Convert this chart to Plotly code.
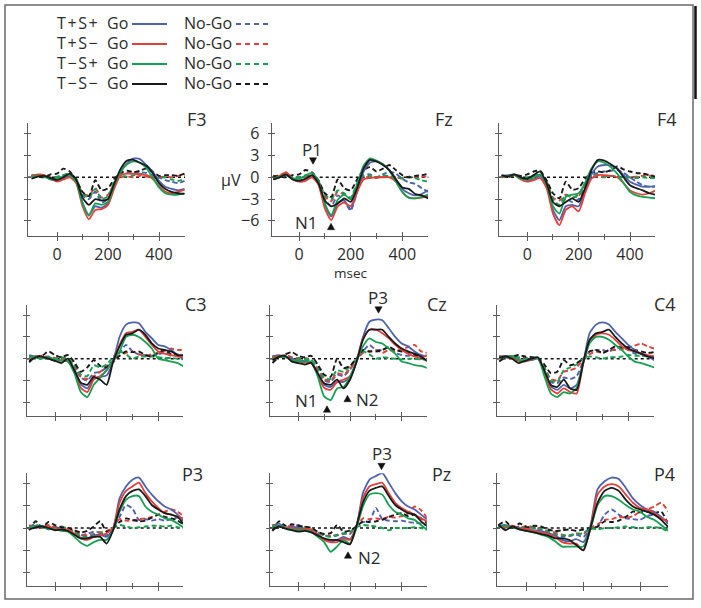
import plotly.graph_objects as go

W, H = 701, 608

# ---------------- data (µV, sampled every 25 ms) ----------------
times = [-100, -75, -50, -25, 0, 25, 50, 75, 100, 125, 150, 175, 200,
         225, 250, 275, 300, 325, 350, 375, 400, 425, 450, 475, 500]

electrodes = ["F3", "Fz", "F4", "C3", "Cz", "C4", "P3", "Pz", "P4"]
conditions = ["T+S+", "T+S−", "T−S+", "T−S−"]
cond_keys = ["tpsp", "tpsm", "tmsp", "tmsm"]
colors = ["#4e62ad", "#e4403b", "#16a052", "#1a1a1a"]
x_tick_vals = [0, 200, 400]
x_tick_text = ["0", "200", "400"]
x_minor_vals = [100, 300]
y_tick_vals = [-6, -3, 0, 3, 6]
y_tick_text = ["−6", "−3", "0", "3", "6"]

# F3
F3_tpsp_go = [0.2, 0.3, 0.2, -0.3, -0.3, -0.2, 0.2, -0.5, -3.5, -5.2, -4.0, -4.2, -3.6, -1.2, 0.8, 1.9, 2.6, 2.5, 1.7, 0.8, -0.5, -1.3, -1.6, -1.8, -1.6]
F3_tpsm_go = [0.2, 0.4, 0.3, -0.2, -0.6, -0.3, 0.0, -0.8, -4.0, -5.8, -4.5, -4.4, -3.8, -1.5, 0.3, 0.5, 0.5, 0.4, 0.3, -0.2, -1.2, -2.0, -2.2, -2.0, -1.7]
F3_tmsp_go = [0.1, 0.2, 0.1, -0.3, -0.2, 0.1, 0.3, -0.6, -3.6, -5.3, -3.6, -3.8, -3.4, -1.0, 0.8, 1.8, 2.2, 2.0, 1.3, 0.0, -1.4, -2.2, -2.4, -2.4, -2.2]
F3_tmsm_go = [-0.2, 0.1, 0.2, -0.1, -0.4, 0.0, 0.5, -0.3, -2.8, -3.8, -3.0, -3.2, -3.0, -0.8, 1.2, 2.3, 2.4, 2.0, 1.6, 0.6, -0.8, -1.6, -2.0, -2.2, -2.3]
F3_tpsp_nogo = [0.1, 0.2, 0.3, -0.2, 0.0, 0.3, 0.5, -0.5, -2.5, -3.0, -2.0, -3.5, -3.0, -1.0, 0.3, 0.6, 0.5, 0.7, 0.6, 0.3, 0.0, -0.4, -0.6, -0.8, -0.5]
F3_tpsm_nogo = [0.0, 0.3, 0.2, 0.0, -0.2, 0.2, 0.4, -0.3, -2.2, -2.5, -1.5, -2.8, -2.4, -0.8, 0.0, 0.1, 0.0, 0.2, 0.1, 0.0, 0.0, 0.1, 0.0, 0.2, 0.3]
F3_tmsp_nogo = [0.2, 0.1, 0.2, -0.1, 0.1, 0.3, 0.5, -0.2, -2.3, -2.8, -1.6, -3.0, -2.6, -0.6, 0.2, 0.1, 0.3, 0.5, 0.3, 0.0, -0.1, 0.0, -0.3, -0.5, -0.2]
F3_tmsm_nogo = [0.3, 0.1, 0.0, 0.4, 0.5, 1.2, 0.8, -0.3, -2.0, -2.6, -0.4, -1.8, -1.5, -0.2, 0.6, 0.9, 0.7, 0.9, 1.2, 0.8, 0.2, 0.3, 0.3, 0.2, 0.5]

# Fz
Fz_tpsp_go = [-0.2, 0.0, 0.3, -0.2, -0.4, -0.2, 0.2, -0.8, -3.8, -5.4, -3.6, -3.2, -4.4, -2.0, 0.8, 2.0, 2.2, 1.8, 1.0, -0.2, -1.6, -2.2, -2.5, -2.3, -1.8]
Fz_tpsm_go = [-0.3, 0.2, 0.7, -0.2, -0.6, -0.5, 0.0, -1.0, -4.3, -5.9, -4.0, -3.5, -4.0, -2.0, -0.3, -0.1, 0.0, 0.0, 0.0, -0.6, -2.0, -2.8, -2.9, -2.8, -2.6]
Fz_tmsp_go = [-0.2, 0.1, 0.3, -0.1, -0.2, 0.2, 0.6, -0.5, -3.6, -5.2, -3.1, -2.4, -3.0, -1.0, 1.6, 2.6, 2.3, 1.8, 0.9, -0.6, -2.0, -2.8, -2.9, -2.7, -2.4]
Fz_tmsm_go = [-0.3, 0.0, 0.4, -0.3, -0.5, -0.2, 0.3, -0.8, -3.2, -4.0, -3.6, -2.9, -3.4, -1.5, 1.2, 2.4, 2.2, 1.7, 1.0, -0.3, -1.4, -1.6, -2.3, -2.5, -2.9]
Fz_tpsp_nogo = [0.0, 0.2, 0.3, -0.1, 0.0, 0.2, 0.3, -0.8, -3.0, -4.0, -2.5, -3.2, -4.6, -2.0, 0.3, 0.4, 0.0, 0.4, 0.8, 0.5, -0.2, -0.7, -0.9, -1.5, -2.0]
Fz_tpsm_nogo = [0.1, 0.3, 0.5, 0.0, -0.1, 0.1, 0.2, -0.6, -2.6, -3.3, -2.0, -2.4, -3.0, -1.2, 0.0, 0.0, -0.1, 0.1, 0.0, 0.0, -0.2, 0.1, 0.0, 0.1, 0.1]
Fz_tmsp_nogo = [0.0, 0.2, 0.4, 0.0, 0.0, 0.3, 0.4, -0.5, -2.4, -3.0, -1.8, -2.2, -2.8, -0.8, 0.2, 0.2, 0.0, 0.3, 0.1, 0.0, -0.1, 0.0, -0.1, -0.4, -0.6]
Fz_tmsm_nogo = [0.2, 0.1, 0.0, 0.3, 0.4, 1.0, 0.7, -0.4, -2.2, -2.7, -0.3, -1.5, -1.8, -0.3, 1.0, 1.4, 0.8, 1.2, 1.7, 1.0, 0.3, 0.0, 0.2, 0.3, 0.5]

# F4
F4_tpsp_go = [0.2, 0.3, 0.4, 0.0, -0.4, -0.3, 0.2, -1.2, -4.5, -5.9, -4.0, -3.8, -4.0, -1.8, 0.4, 1.5, 1.7, 1.6, 1.2, 0.3, -0.6, -1.0, -1.3, -1.3, -1.2]
F4_tpsm_go = [0.0, 0.2, 0.3, -0.3, -0.6, -0.4, -0.1, -1.5, -5.0, -6.6, -4.5, -4.0, -4.7, -2.2, -0.2, 0.3, 0.3, 0.2, 0.0, -0.8, -1.8, -2.2, -2.4, -2.2, -1.8]
F4_tmsp_go = [0.1, 0.2, 0.3, -0.2, -0.3, 0.0, 0.4, -1.0, -4.0, -5.0, -2.7, -2.4, -2.2, -0.8, 1.2, 2.2, 2.0, 1.4, 0.5, -0.8, -2.0, -2.5, -2.7, -2.8, -2.9]
F4_tmsm_go = [0.3, 0.1, 0.4, 0.0, -0.2, 0.3, 0.8, -0.8, -3.4, -4.0, -3.4, -2.9, -3.4, -1.5, 1.0, 2.4, 2.3, 1.8, 1.2, 0.0, -1.1, -1.5, -1.8, -2.2, -2.4]
F4_tpsp_nogo = [0.1, 0.2, 0.3, 0.0, -0.1, 0.2, 0.3, -0.8, -3.3, -3.8, -3.0, -3.4, -3.0, -1.2, 0.2, 0.6, 0.8, 0.9, 1.0, 0.6, 0.0, -0.6, -1.1, -1.3, -1.3]
F4_tpsm_nogo = [0.2, 0.1, 0.4, 0.0, -0.1, 0.1, 0.2, -0.6, -2.8, -3.2, -2.4, -2.8, -2.6, -0.9, 0.0, 0.1, 0.0, 0.2, 0.1, 0.0, 0.0, 0.1, 0.2, 0.2, 0.3]
F4_tmsp_nogo = [0.1, 0.2, 0.3, 0.0, 0.0, 0.2, 0.3, -0.6, -3.0, -3.8, -2.4, -2.8, -2.4, -0.8, 0.2, 0.3, 0.1, 0.2, 0.1, 0.0, 0.0, -0.1, 0.0, -0.1, -0.1]
F4_tmsm_nogo = [0.2, 0.0, 0.3, 0.2, 0.4, 0.8, 0.9, -0.4, -2.2, -2.9, -0.6, -1.7, -1.5, -0.2, 0.6, 0.8, 0.7, 1.0, 1.5, 1.1, 0.8, 0.6, 0.5, 0.3, 0.1]

# C3
C3_tpsp_go = [0.5, 0.3, 0.2, 0.0, -0.2, -0.3, -0.3, -1.5, -3.5, -4.1, -2.7, -2.5, -2.3, -0.4, 3.0, 4.7, 5.0, 4.9, 3.7, 2.8, 1.9, 1.7, 1.2, 0.5, -0.2]
C3_tpsm_go = [0.2, 0.3, 0.1, 0.1, -0.3, -0.2, -0.4, -1.8, -4.0, -4.6, -2.9, -2.4, -1.6, -0.2, 1.9, 3.5, 3.7, 4.0, 3.0, 1.9, 1.0, 0.7, 0.5, 0.3, 0.3]
C3_tmsp_go = [0.3, 0.2, 0.0, 0.2, -0.1, -0.2, -0.4, -2.0, -4.6, -5.3, -3.6, -2.6, -1.6, -0.2, 1.0, 3.0, 3.3, 3.0, 2.3, 1.4, 0.0, -0.2, -0.4, -0.6, -1.1]
C3_tmsm_go = [-0.3, 0.2, 0.3, 0.0, -0.3, -0.6, 0.0, -1.6, -3.3, -3.6, -2.5, -2.9, -3.6, -0.4, 1.7, 3.3, 3.5, 4.0, 3.3, 2.1, 1.4, 1.2, 1.0, 0.5, 0.5]
C3_tpsp_nogo = [0.3, 0.1, 0.2, 0.3, 0.0, 0.1, 0.0, -1.0, -2.6, -3.0, -2.0, -1.8, -1.2, -0.3, 0.8, 1.9, 1.0, 0.6, 0.5, 0.4, 0.6, 0.8, 0.4, 0.6, 0.3]
C3_tpsm_nogo = [0.1, 0.2, 0.4, 0.2, 0.1, 0.0, -0.2, -1.0, -2.5, -2.8, -2.4, -1.8, -1.0, -0.5, 0.4, 0.8, 1.0, 0.6, 0.4, 0.6, 0.8, 1.1, 1.4, 1.2, 1.2]
C3_tmsp_nogo = [0.2, 0.1, 0.2, 0.1, 0.0, 0.2, 0.0, -0.8, -2.2, -2.4, -0.9, -1.2, -0.8, 0.2, 1.0, 0.6, 0.0, 0.3, 0.3, 0.3, 0.2, 0.1, 0.1, 0.0, 0.0]
C3_tmsm_nogo = [-0.5, 0.3, 0.4, 1.0, 0.5, 0.2, 0.5, -0.5, -1.8, -1.2, -0.2, -1.0, -1.2, -0.3, 0.4, 1.0, 0.9, 1.0, 0.5, 0.3, 0.8, 1.2, 0.6, 0.4, 0.3]

# Cz
Cz_tpsp_go = [0.3, 0.5, 0.2, 0.0, -0.3, -0.3, -0.5, -2.0, -3.6, -3.9, -3.2, -3.2, -2.6, -0.4, 3.0, 5.1, 5.4, 5.3, 4.2, 3.0, 2.1, 1.7, 1.0, 0.5, 0.3]
Cz_tpsm_go = [0.2, 0.4, 0.3, -0.2, -0.4, -0.5, -0.6, -2.2, -4.0, -4.3, -3.2, -2.9, -2.4, -0.4, 2.8, 4.0, 4.0, 3.5, 2.8, 1.9, 1.2, 0.7, 0.3, 0.2, 0.5]
Cz_tmsp_go = [0.0, 0.3, 0.2, -0.2, -0.3, -0.4, -0.4, -2.4, -5.2, -5.7, -4.1, -3.9, -2.5, -0.4, 1.7, 2.8, 2.3, 2.1, 1.4, 0.7, -0.4, -0.6, -0.9, -1.0, -1.3]
Cz_tmsm_go = [-0.2, 0.3, 0.4, -0.4, -0.6, -0.8, -0.6, -2.0, -3.4, -3.6, -2.9, -4.1, -2.9, -0.5, 2.6, 4.0, 4.0, 4.0, 3.0, 2.1, 1.4, 1.0, 0.7, 0.3, -0.4]
Cz_tpsp_nogo = [0.4, 0.2, 0.3, 0.1, 0.0, -0.1, -0.2, -1.5, -3.0, -3.2, -2.2, -2.4, -1.5, -0.2, 1.0, 1.9, 1.2, 1.2, 1.6, 0.8, 0.5, 0.4, 0.6, 0.4, 0.4]
Cz_tpsm_nogo = [0.3, 0.2, 0.5, 0.2, 0.0, 0.1, -0.2, -1.4, -2.8, -3.0, -2.0, -2.2, -1.4, -0.2, 0.8, 1.0, 1.2, 0.8, 1.2, 1.0, 1.3, 1.6, 1.9, 1.0, 0.8]
Cz_tmsp_nogo = [0.2, 0.3, 0.2, 0.0, 0.1, 0.0, -0.2, -1.2, -2.6, -2.8, -1.6, -1.8, -1.0, 0.0, 1.0, 0.6, 0.0, 0.2, 0.1, 0.0, -0.1, 0.0, 0.0, -0.1, -0.2]
Cz_tmsm_nogo = [-0.6, 0.2, 0.6, 0.9, 0.4, 0.2, 0.4, -0.8, -2.2, -2.5, 0.0, -1.3, -1.0, 0.0, 1.2, 1.0, 1.0, 1.2, 1.6, 1.2, 1.0, 0.8, 0.5, 0.2, -0.2]

# C4
C4_tpsp_go = [0.2, 0.4, 0.2, -0.2, -0.3, -0.2, 0.0, -1.8, -3.8, -4.3, -3.6, -4.1, -3.6, -0.6, 3.5, 4.7, 5.0, 4.7, 3.7, 2.8, 1.9, 1.2, 0.7, 0.3, -0.2]
C4_tpsm_go = [0.4, 0.2, 0.1, -0.3, -0.4, -0.1, 0.1, -2.0, -4.2, -4.8, -4.1, -4.6, -4.8, -0.8, 2.3, 3.3, 3.5, 3.3, 2.6, 1.7, 1.2, 1.0, 0.7, 0.5, 0.3]
C4_tmsp_go = [0.3, 0.2, 0.4, -0.2, -0.3, 0.0, 0.1, -2.4, -4.8, -5.3, -4.6, -4.8, -4.0, -0.6, 2.1, 3.0, 3.0, 2.6, 1.9, 1.2, 0.3, -0.4, -0.6, -0.9, -1.2]
C4_tmsm_go = [0.1, 0.3, 0.0, -0.6, -0.3, 0.0, 0.2, -1.6, -3.6, -3.9, -2.9, -4.1, -4.3, -0.6, 2.6, 3.5, 3.7, 4.0, 3.0, 2.1, 1.4, 1.0, 0.7, 0.3, 0.1]
C4_tpsp_nogo = [0.3, 0.1, 0.2, 0.0, 0.1, 0.0, 0.0, -1.4, -3.2, -3.4, -2.6, -2.8, -2.4, -0.4, 1.0, 1.2, 1.2, 1.0, 1.4, 1.6, 1.2, 0.7, 0.6, 0.4, 0.3]
C4_tpsm_nogo = [0.2, 0.3, 0.3, 0.1, 0.0, 0.1, 0.0, -1.2, -2.8, -3.0, -1.8, -1.6, -1.2, -0.1, 0.6, 1.0, 0.8, 1.2, 1.2, 1.3, 1.6, 1.8, 2.1, 1.7, 1.4]
C4_tmsp_nogo = [0.1, 0.2, 0.3, 0.2, 0.0, 0.2, 0.0, -1.2, -3.0, -3.2, -1.6, -1.2, -0.8, 0.0, 0.3, 0.2, 0.0, 0.2, 0.2, 0.3, 0.5, 0.4, 0.4, 0.3, 0.3]
C4_tmsm_nogo = [-0.4, 0.2, 0.3, 0.5, 0.3, 0.2, 0.1, -0.8, -2.0, -1.8, -0.2, -0.9, -0.6, 0.0, 1.0, 1.2, 0.8, 1.2, 1.7, 1.5, 1.6, 1.2, 1.0, 0.8, 0.9]

# P3
P3_tpsp_go = [0.4, 0.0, 0.3, -0.2, 0.0, -0.3, -0.4, -0.9, -1.3, -1.4, -1.0, -0.9, -1.2, -0.1, 4.0, 5.6, 6.5, 6.8, 5.6, 4.5, 3.6, 2.9, 2.5, 1.8, 0.9]
P3_tpsm_go = [0.2, 0.3, 0.0, 0.2, -0.1, -0.2, -0.2, -0.8, -1.4, -1.6, -1.2, -1.0, -0.7, 0.0, 3.4, 5.0, 5.6, 6.1, 4.7, 3.6, 2.7, 2.0, 1.8, 1.5, 1.3]
P3_tmsp_go = [0.0, 0.3, 0.1, -0.1, -0.2, -0.4, -0.5, -1.2, -2.0, -2.4, -1.9, -1.6, -1.6, -0.3, 2.2, 3.8, 4.3, 4.3, 2.9, 2.2, 1.8, 1.3, 1.1, 0.6, 0.0]
P3_tmsm_go = [-0.2, 0.1, 0.2, 0.0, -0.3, -0.2, -0.4, -0.9, -1.4, -1.4, -1.2, -1.2, -2.1, -0.3, 2.5, 4.3, 5.0, 5.2, 4.3, 3.1, 2.5, 2.0, 1.8, 1.5, 0.4]
P3_tpsp_nogo = [0.2, 0.5, 0.1, 0.3, 0.0, 0.2, -0.2, -0.8, -1.0, -0.8, -0.5, -0.6, -1.0, 0.0, 1.5, 3.1, 2.6, 1.1, 1.2, 1.0, 1.2, 1.0, 1.2, 1.4, 1.0]
P3_tpsm_nogo = [0.3, 0.1, 0.2, 0.4, 0.2, 0.0, 0.1, -0.5, -0.9, -1.0, -0.8, -0.6, -0.4, 0.0, 1.2, 1.0, 1.0, 1.2, 1.3, 1.5, 1.8, 2.2, 2.5, 2.2, 1.5]
P3_tmsp_nogo = [0.1, 0.2, 0.1, 0.2, 0.0, 0.1, -0.1, -0.6, -1.1, -1.2, -0.9, -0.8, -0.6, 0.0, 0.4, 0.2, 0.0, 0.1, 0.2, 0.3, 0.3, 0.2, 0.3, 0.1, 0.0]
P3_tmsm_nogo = [-0.3, 0.9, 0.1, 0.8, 0.4, 0.1, 0.0, -0.3, -0.6, -0.4, 0.2, 0.9, -0.5, 0.0, 0.8, 1.3, 1.1, 0.9, 1.0, 1.4, 1.8, 1.5, 1.3, 1.0, 0.4]

# Pz
Pz_tpsp_go = [0.3, 0.6, 0.0, 0.2, 0.0, -0.2, -0.3, -0.8, -1.5, -1.8, -1.6, -1.2, -1.5, 0.2, 4.7, 6.5, 7.0, 7.4, 6.1, 4.7, 3.6, 2.9, 2.5, 1.8, 1.1]
Pz_tpsm_go = [0.4, 0.2, 0.1, 0.0, -0.2, -0.1, -0.2, -0.9, -1.6, -1.9, -1.9, -1.4, -1.6, 0.2, 4.0, 5.6, 5.9, 6.1, 4.7, 3.4, 2.7, 2.2, 1.8, 1.3, 0.9]
Pz_tmsp_go = [0.2, 0.3, 0.0, -0.2, -0.3, -0.3, -0.5, -1.2, -1.9, -3.2, -2.5, -1.6, -2.1, 0.0, 2.9, 4.5, 4.7, 4.5, 3.1, 2.2, 1.8, 1.3, 1.1, 0.4, -0.3]
Pz_tmsm_go = [-0.3, 0.2, -0.1, -0.3, -0.5, -0.4, -0.6, -1.0, -1.4, -1.6, -1.6, -1.9, -2.2, 0.3, 3.4, 5.0, 5.4, 5.6, 4.3, 3.1, 2.5, 2.0, 1.8, 0.9, 0.2]
Pz_tpsp_nogo = [0.4, 0.2, 0.3, 0.1, 0.4, 0.0, -0.2, -0.6, -1.0, -1.1, -0.9, -0.7, -0.8, 0.3, 0.8, 0.9, 2.7, 1.2, 1.0, 0.9, 1.0, 0.8, 0.7, 0.6, 0.4]
Pz_tpsm_nogo = [0.2, 0.3, 0.1, 0.3, 0.2, 0.1, -0.1, -0.6, -1.0, -1.1, -1.0, -0.8, -0.6, 0.2, 1.3, 1.2, 1.3, 1.2, 1.5, 1.4, 1.6, 2.0, 2.9, 2.4, 1.3]
Pz_tmsp_nogo = [0.1, 0.2, 0.2, 0.1, 0.0, 0.1, 0.0, -0.5, -1.0, -1.2, -1.0, -0.8, -0.5, 0.1, 0.4, 0.3, 0.2, 0.0, -0.3, 0.0, 0.0, 0.0, 0.1, 0.0, -0.3]
Pz_tmsm_nogo = [-0.4, 0.9, 0.3, 0.5, 0.3, 0.2, 0.0, -0.5, -0.8, -0.7, 0.4, -0.5, -0.3, 0.2, 0.9, 0.8, 0.9, 1.1, 1.5, 1.8, 2.0, 1.6, 1.8, 1.3, 0.6]

# P4
P4_tpsp_go = [0.3, 0.4, 0.2, 0.0, -0.2, -0.3, -0.4, -0.7, -1.0, -1.6, -1.8, -1.5, -1.9, 0.3, 5.2, 6.3, 6.8, 6.6, 5.4, 4.0, 3.1, 2.5, 2.2, 1.5, 0.6]
P4_tpsm_go = [0.2, 0.1, 0.3, -0.1, -0.1, -0.4, -0.6, -0.8, -1.2, -1.9, -2.1, -2.1, -3.0, 0.0, 4.5, 5.6, 5.9, 5.6, 4.5, 3.4, 2.7, 2.5, 2.0, 1.3, 0.9]
P4_tmsp_go = [0.1, 0.3, 0.1, -0.2, -0.4, -0.6, -0.9, -1.2, -1.8, -2.5, -2.5, -2.5, -2.5, -0.2, 3.1, 4.3, 4.3, 3.8, 3.1, 2.5, 2.2, 1.5, 1.1, 0.4, -0.4]
P4_tmsm_go = [0.5, -0.3, 0.2, -0.2, -0.4, -0.6, -0.8, -1.0, -1.4, -1.4, -1.6, -2.3, -3.0, 0.0, 3.4, 5.0, 5.4, 5.0, 3.8, 2.9, 2.5, 2.2, 1.8, 1.1, 0.1]
P4_tpsp_nogo = [0.2, 0.3, 0.1, 0.2, 0.0, 0.1, -0.3, -0.6, -0.9, -1.2, -1.1, -0.9, -1.2, -0.2, 0.2, 1.8, 2.5, 1.8, 1.3, 1.2, 1.1, 1.6, 1.8, 1.4, 0.8]
P4_tpsm_nogo = [0.1, 0.2, 0.3, 0.0, 0.3, 0.1, -0.1, -0.4, -0.6, -0.9, -1.0, -0.7, -0.8, 0.0, 0.5, 1.1, 1.2, 1.5, 1.4, 1.6, 2.2, 2.5, 2.9, 3.4, 2.2]
P4_tmsp_nogo = [0.2, 0.1, 0.2, 0.0, 0.1, 0.0, -0.1, -0.5, -0.8, -1.0, -1.0, -0.8, -0.7, 0.0, -0.2, 0.0, 0.0, 0.1, 0.2, 0.1, 0.0, 0.1, 0.1, 0.0, -0.5]
P4_tmsm_nogo = [0.4, 0.9, 0.0, 0.6, 0.1, 0.3, 0.2, -0.2, -0.4, -0.3, -0.2, -0.4, -0.2, 0.0, 0.2, 0.9, 0.8, 1.0, 1.5, 2.2, 2.1, 2.2, 2.0, 2.2, 0.4]

series = {}
for e in electrodes:
    series[e] = {
        "go": [globals()[f"{e}_{k}_go"] for k in cond_keys],
        "nogo": [globals()[f"{e}_{k}_nogo"] for k in cond_keys],
    }

# ---------------- layout geometry (pixels) ----------------
# left, right, top, bottom of each plot area; pixel of t=0 and t=400
panel_px = [
    (28.0, 185.0, 123.0, 236.0, 57.0, 159.0),
    (271.7, 428.3, 123.0, 235.7, 299.0, 402.3),
    (499.0, 655.0, 123.0, 236.0, 527.3, 630.0),
    (26.7, 183.0, 305.0, 416.0, 55.0, 158.3),
    (270.0, 426.7, 305.0, 416.0, 298.3, 401.7),
    (496.7, 654.0, 305.0, 416.0, 525.0, 628.3),
    (26.7, 183.0, 473.3, 585.7, 55.0, 158.3),
    (270.0, 426.7, 473.3, 585.7, 298.3, 401.7),
    (496.7, 668.0, 473.3, 585.7, 526.7, 640.0),
]
zero_px = [177.3, 177.3, 177.3, 358.7, 358.7, 358.7, 528.0, 528.0, 528.0]
px_per_uv = [7.25, 7.25, 7.25, 7.25, 7.25, 7.25, 7.42, 7.42, 7.42]


def PX(x):
    return x / W


def PY(y):
    return 1 - y / H


FONT = "Open Sans, Lato, DejaVu Sans, sans-serif"
AX = "#5c5c5c"
TXT = "#2b2b2b"

fig = go.Figure()
layout_axes = {}
shapes = []
annotations = []

for i, e in enumerate(electrodes):
    n = i + 1
    L, R, T, B, p0, p400 = panel_px[i]
    s = (p400 - p0) / 400.0
    xr = [(L - p0) / s, (R - p0) / s]
    z = zero_px[i]
    k = px_per_uv[i]
    yr = [-(B - z) / k, (z - T) / k]
    xs = "" if n == 1 else str(n)
    ox = str(n + 9)

    for c in range(4):
        fig.add_trace(go.Scatter(
            x=times, y=series[e]["nogo"][c], mode="lines",
            line=dict(color=colors[c], width=1.9, dash="5px,3px", shape="spline", smoothing=0.6),
            xaxis="x" + xs, yaxis="y" + xs, showlegend=False, hoverinfo="skip"))
    for c in range(4):
        fig.add_trace(go.Scatter(
            x=times, y=series[e]["go"][c], mode="lines",
            line=dict(color=colors[c], width=1.8, shape="spline", smoothing=0.6),
            xaxis="x" + xs, yaxis="y" + xs, showlegend=False, hoverinfo="skip"))
    fig.add_trace(go.Scatter(x=[None], y=[None], xaxis="x" + ox, yaxis="y" + ox,
                             showlegend=False, hoverinfo="skip"))

    xdom = [PX(L), PX(R)]
    ydom = [PY(B), PY(T)]
    row = i // 3
    layout_axes["xaxis" + xs] = dict(
        domain=xdom, range=xr, anchor="y" + xs, showline=True, linecolor=AX, linewidth=1.3,
        ticks="outside", ticklen=4, tickwidth=1.2, tickcolor=AX,
        tickmode="array", tickvals=x_tick_vals, ticktext=x_tick_text,
        showticklabels=(row == 0), tickfont=dict(family=FONT, size=16, color=TXT),
        minor=dict(tickmode="array", tickvals=x_minor_vals, ticks="outside", ticklen=2.5,
                   tickwidth=1.1, tickcolor=AX),
        showgrid=False, zeroline=False, fixedrange=True)
    layout_axes["yaxis" + xs] = dict(
        domain=ydom, range=yr, anchor="x" + xs, showline=True, linecolor=AX, linewidth=1.3,
        ticks="outside", ticklen=3, tickwidth=1.2, tickcolor=AX,
        tickmode="array", tickvals=y_tick_vals, ticktext=y_tick_text,
        showticklabels=(n == 2), tickfont=dict(family=FONT, size=16, color=TXT),
        ticklabelstandoff=5,
        showgrid=False, zeroline=False, fixedrange=True)
    layout_axes["xaxis" + ox] = dict(
        domain=xdom, range=xr, anchor="y" + ox, overlaying="x" + xs, showline=False,
        ticks="inside", ticklen=4, tickwidth=1.2, tickcolor=AX,
        tickmode="array", tickvals=x_tick_vals, showticklabels=False,
        minor=dict(tickmode="array", tickvals=x_minor_vals, ticks="inside", ticklen=2.5,
                   tickwidth=1.1, tickcolor=AX),
        showgrid=False, zeroline=False, fixedrange=True)
    layout_axes["yaxis" + ox] = dict(
        domain=ydom, range=yr, anchor="x" + ox, overlaying="y" + xs, showline=False,
        ticks="inside", ticklen=3, tickwidth=1.2, tickcolor=AX,
        tickmode="array", tickvals=y_tick_vals, showticklabels=False,
        showgrid=False, zeroline=False, fixedrange=True)

    shapes.append(dict(type="line", xref=f"x{xs} domain", yref="y" + xs,
                       x0=0, x1=1, y0=0, y1=0,
                       line=dict(color="#111111", width=1.4, dash="dot"), layer="below"))

# panel titles
title_pos = [(185, 119), (433, 119), (655, 119),
             (183, 304), (425, 304), (652, 304),
             (180, 474), (430, 474), (652, 474)]
for e, (x, y) in zip(electrodes, title_pos):
    annotations.append(dict(text=e, x=PX(x), y=PY(y), xref="paper", yref="paper",
                            xanchor="left", yanchor="middle", showarrow=False,
                            font=dict(family=FONT, size=18, color=TXT)))

annotations.append(dict(text="µV", x=PX(231), y=PY(180), xref="paper", yref="paper",
                        xanchor="center", yanchor="middle", showarrow=False,
                        font=dict(family=FONT, size=16, color=TXT)))
annotations.append(dict(text="msec", x=PX(351), y=PY(272.5), xref="paper", yref="paper",
                        xanchor="center", yanchor="middle", showarrow=False,
                        font=dict(family=FONT, size=13.5, color=TXT)))

comp_labels = [("P1", 312, 149.5, "center"), ("N1", 306, 222.5, "center"),
               ("P3", 378, 297, "center"), ("N1", 306, 400, "center"), ("N2", 354, 399, "left"),
               ("P3", 381.5, 453.5, "center"), ("N2", 356.5, 557, "left")]
for t, x, y, xa in comp_labels:
    annotations.append(dict(text=t, x=PX(x), y=PY(y), xref="paper", yref="paper",
                            xanchor=xa, yanchor="middle", showarrow=False,
                            font=dict(family=FONT, size=17, color=TXT)))

# small pointer triangles (down = peak above, up = trough below)
triangles = [("down", 313, 161), ("up", 331, 226.5),
             ("down", 378.5, 310), ("up", 327, 409), ("up", 347.5, 398.5),
             ("down", 381.5, 466.5), ("up", 348, 555)]
for d, cx, cy in triangles:
    hw, hh = 3.6, 3.2
    if d == "down":
        pts = [(cx - hw, cy - hh), (cx + hw, cy - hh), (cx, cy + hh)]
    else:
        pts = [(cx - hw, cy + hh), (cx + hw, cy + hh), (cx, cy - hh)]
    path = "M " + " L ".join(f"{PX(px):.5f},{PY(py):.5f}" for px, py in pts) + " Z"
    shapes.append(dict(type="path", xref="paper", yref="paper", path=path,
                       fillcolor="#111111", line=dict(color="#111111", width=0.5)))

# legend (drawn manually: label, Go, line, No-Go, dashed line)
leg_rows = [23, 43, 63, 83]
for c in range(4):
    y = leg_rows[c]
    label = "\u200a".join(conditions[c])
    annotations.append(dict(text=label, x=PX(55), y=PY(y), xref="paper", yref="paper",
                            xanchor="left", yanchor="middle", showarrow=False,
                            font=dict(family=FONT, size=16, color=TXT)))
    annotations.append(dict(text="Go", x=PX(105), y=PY(y), xref="paper", yref="paper",
                            xanchor="left", yanchor="middle", showarrow=False,
                            font=dict(family=FONT, size=16, color=TXT)))
    annotations.append(dict(text="No-Go", x=PX(182), y=PY(y), xref="paper", yref="paper",
                            xanchor="left", yanchor="middle", showarrow=False,
                            font=dict(family=FONT, size=16, color=TXT)))
    shapes.append(dict(type="line", xref="paper", yref="paper",
                       x0=PX(132), x1=PX(167), y0=PY(y + 1), y1=PY(y + 1),
                       line=dict(color=colors[c], width=2)))
    shapes.append(dict(type="line", xref="paper", yref="paper",
                       x0=PX(236), x1=PX(271), y0=PY(y + 1), y1=PY(y + 1),
                       line=dict(color=colors[c], width=2, dash="5px,4px")))

# outer frame
shapes.append(dict(type="rect", xref="paper", yref="paper",
                   x0=PX(5), x1=PX(693), y0=PY(599), y1=PY(5),
                   line=dict(color="#6a6a6a", width=1.5), fillcolor="rgba(0,0,0,0)"))
shapes.append(dict(type="line", xref="paper", yref="paper",
                   x0=PX(695.5), x1=PX(695.5), y0=PY(6), y1=PY(99),
                   line=dict(color="#111111", width=2.5)))

fig.update_layout(
    width=W, height=H, margin=dict(l=0, r=0, t=0, b=0),
    paper_bgcolor="white", plot_bgcolor="rgba(0,0,0,0)",
    showlegend=False, font=dict(family=FONT, color=TXT),
    shapes=shapes, annotations=annotations, **layout_axes)

fig.write_html("out.html", config={"displayModeBar": False},
               post_script="document.body.style.margin='0px';document.body.style.overflow='hidden';")
